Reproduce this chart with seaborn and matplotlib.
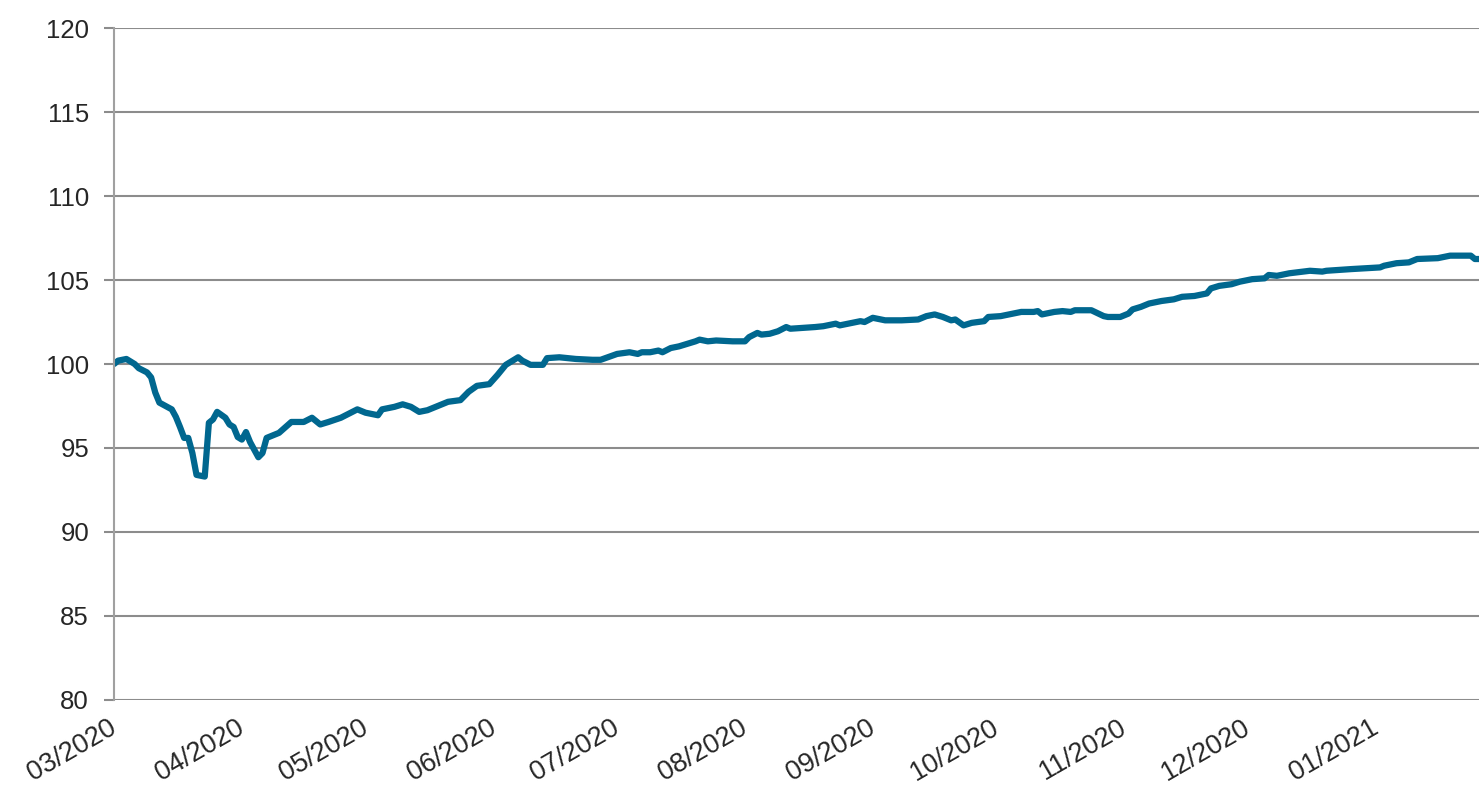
import matplotlib
matplotlib.use("Agg")
import matplotlib.pyplot as plt
import matplotlib.dates as mdates
import matplotlib.transforms as mtransforms
import pandas as pd
import seaborn as sns

# Index level (start = 100)
dates = [
    "2020-03-01", "2020-03-02", "2020-03-04", "2020-03-06", "2020-03-07", "2020-03-09",
    "2020-03-10", "2020-03-11", "2020-03-12", "2020-03-15", "2020-03-16", "2020-03-17",
    "2020-03-18", "2020-03-19", "2020-03-20", "2020-03-21", "2020-03-23", "2020-03-24",
    "2020-03-25", "2020-03-26", "2020-03-28", "2020-03-29", "2020-03-30", "2020-03-31",
    "2020-04-01", "2020-04-02", "2020-04-03", "2020-04-05", "2020-04-06", "2020-04-07",
    "2020-04-10", "2020-04-13", "2020-04-16", "2020-04-18", "2020-04-20", "2020-04-22",
    "2020-04-25", "2020-04-29", "2020-05-01", "2020-05-04", "2020-05-05", "2020-05-08",
    "2020-05-10", "2020-05-12", "2020-05-14", "2020-05-16", "2020-05-19", "2020-05-21",
    "2020-05-24", "2020-05-26", "2020-05-28", "2020-05-31", "2020-06-02", "2020-06-04",
    "2020-06-07", "2020-06-08", "2020-06-10", "2020-06-13", "2020-06-14", "2020-06-17",
    "2020-06-21", "2020-06-25", "2020-06-27", "2020-07-01", "2020-07-04", "2020-07-06",
    "2020-07-07", "2020-07-09", "2020-07-11", "2020-07-12", "2020-07-14", "2020-07-16",
    "2020-07-18", "2020-07-20", "2020-07-21", "2020-07-23", "2020-07-25", "2020-07-29",
    "2020-08-01", "2020-08-02", "2020-08-04", "2020-08-05", "2020-08-07", "2020-08-09",
    "2020-08-11", "2020-08-12", "2020-08-15", "2020-08-18", "2020-08-20", "2020-08-23",
    "2020-08-24", "2020-08-27", "2020-08-29", "2020-08-30", "2020-09-01", "2020-09-04",
    "2020-09-08", "2020-09-12", "2020-09-14", "2020-09-16", "2020-09-18", "2020-09-20",
    "2020-09-21", "2020-09-23", "2020-09-25", "2020-09-28", "2020-09-29", "2020-10-02",
    "2020-10-04", "2020-10-07", "2020-10-10", "2020-10-11", "2020-10-12", "2020-10-15",
    "2020-10-17", "2020-10-19", "2020-10-20", "2020-10-24", "2020-10-27", "2020-10-28",
    "2020-10-31", "2020-11-02", "2020-11-03", "2020-11-05", "2020-11-07", "2020-11-10",
    "2020-11-13", "2020-11-15", "2020-11-18", "2020-11-21", "2020-11-22", "2020-11-24",
    "2020-11-27", "2020-11-29", "2020-12-02", "2020-12-05", "2020-12-06", "2020-12-08",
    "2020-12-11", "2020-12-16", "2020-12-19", "2020-12-20", "2020-12-26", "2021-01-02",
    "2021-01-03", "2021-01-06", "2021-01-09", "2021-01-11", "2021-01-16", "2021-01-19",
    "2021-01-24", "2021-01-25", "2021-01-26",
]
values = [
    100.0, 100.2, 100.3, 100.0, 99.75, 99.5,
    99.2, 98.3, 97.7, 97.3, 96.85, 96.25,
    95.6, 95.6, 94.7, 93.4, 93.3, 96.5,
    96.7, 97.15, 96.8, 96.4, 96.25, 95.65,
    95.5, 95.95, 95.35, 94.45, 94.7, 95.6,
    95.9, 96.55, 96.55, 96.8, 96.4, 96.55,
    96.8, 97.3, 97.1, 96.95, 97.3, 97.45,
    97.6, 97.45, 97.15, 97.25, 97.55, 97.75,
    97.85, 98.35, 98.7, 98.8, 99.35, 99.95,
    100.4, 100.2, 99.95, 99.95, 100.35, 100.4,
    100.3, 100.25, 100.25, 100.6, 100.7, 100.6,
    100.7, 100.7, 100.8, 100.7, 100.95, 101.05,
    101.2, 101.35, 101.45, 101.35, 101.4, 101.35,
    101.35, 101.6, 101.85, 101.75, 101.8, 101.95,
    102.2, 102.1, 102.15, 102.2, 102.25, 102.4,
    102.3, 102.45, 102.55, 102.5, 102.75, 102.6,
    102.6, 102.65, 102.85, 102.95, 102.8, 102.6,
    102.65, 102.3, 102.45, 102.55, 102.8, 102.85,
    102.95, 103.1, 103.1, 103.15, 102.95, 103.1,
    103.15, 103.1, 103.2, 103.2, 102.85, 102.8,
    102.8, 103.0, 103.25, 103.4, 103.6, 103.75,
    103.85, 104.0, 104.05, 104.2, 104.5, 104.65,
    104.75, 104.9, 105.05, 105.1, 105.3, 105.25,
    105.4, 105.55, 105.5, 105.55, 105.65, 105.75,
    105.85, 106.0, 106.05, 106.25, 106.3, 106.45,
    106.45, 106.25, 106.25,
]
y_ticks = [80, 85, 90, 95, 100, 105, 110, 115, 120]


def draw_chart():
    sns.set_style("white")
    plt.rcParams["font.family"] = ["Liberation Sans", "DejaVu Sans"]

    data = pd.DataFrame({"date": pd.to_datetime(dates), "value": values})

    fig = plt.figure(figsize=(14.79, 7.85), dpi=100)
    ax = fig.add_axes([0.0771, 0.1083, 0.9229, 0.856])

    sns.lineplot(data=data, x="date", y="value", ax=ax,
                 color="#00678f", linewidth=4.5, solid_capstyle="round")

    ax.set_ylim(80, 120)
    ax.set_yticks(y_ticks)
    ax.set_xlim(pd.Timestamp("2020-03-01"), pd.Timestamp("2021-01-26"))
    ax.xaxis.set_major_locator(mdates.MonthLocator())
    ax.xaxis.set_major_formatter(mdates.DateFormatter("%m/%Y"))

    ax.grid(axis="y", color="#8c8c8c", linewidth=1.5)
    ax.set_axisbelow(True)
    for side in ["top", "right", "bottom"]:
        ax.spines[side].set_visible(False)
    ax.spines["left"].set_color("#a0a0a0")
    ax.spines["left"].set_linewidth(1.5)

    ax.tick_params(axis="y", left=True, length=7, width=1.5, color="#8c8c8c",
                   labelsize=18.5, pad=11)
    ax.tick_params(axis="x", bottom=False, labelsize=19.5, pad=7)
    shift = mtransforms.ScaledTranslation(-6 / 100, 0, fig.dpi_scale_trans)
    for lbl in ax.get_xticklabels():
        lbl.set_rotation(30)
        lbl.set_ha("right")
        lbl.set_rotation_mode("anchor")
        lbl.set_transform(lbl.get_transform() + shift)

    ax.set_xlabel("")
    ax.set_ylabel("")

    fig.savefig("out.png", dpi=100)


if __name__ == "__main__":
    draw_chart()
